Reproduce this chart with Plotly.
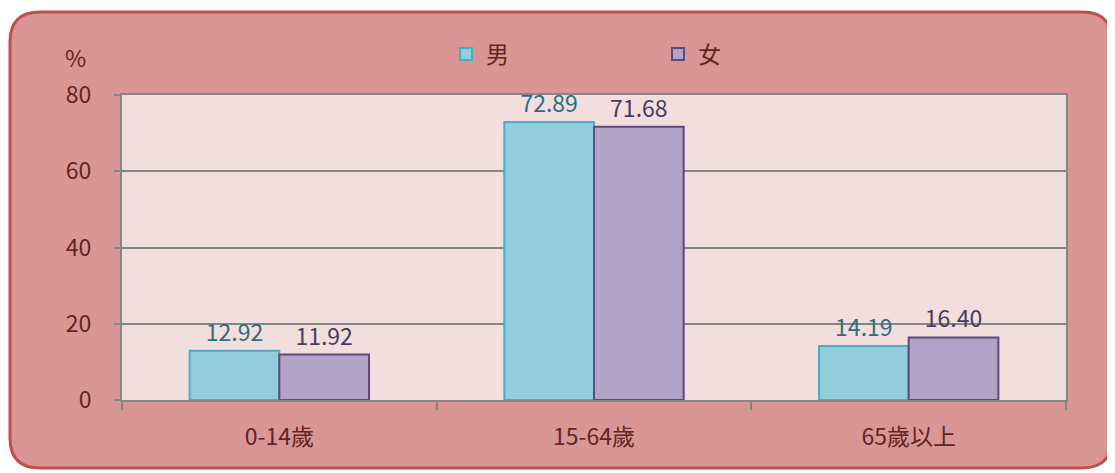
import plotly.graph_objects as go

categories = ["0-14歲", "15-64歲", "65歲以上"]
male = [12.92, 72.89, 14.19]
female = [11.92, 71.68, 16.40]
series_names = ["男", "女"]

# page body has an 8px margin, so the figure is drawn from (8, 8)
OFF = 8
W, H = 1115 - OFF, 473 - OFF
PX0, PX1, PY0, PY1 = 122, 1066, 95, 400   # plot area in screen pixels
L, T = PX0 - OFF, PY0 - OFF
R, B = W - (PX1 - OFF), H - (PY1 - OFF)
pw, ph = PX1 - PX0, PY1 - PY0

def px(x):
    return (x - PX0) / pw

def py(y):
    return (PY1 - y) / ph

def rounded_rect(x0, y0, x1, y1, r):
    pts = [
        f"M {px(x0 + r)},{py(y0)}",
        f"L {px(x1 - r)},{py(y0)}",
        f"Q {px(x1)},{py(y0)} {px(x1)},{py(y0 + r)}",
        f"L {px(x1)},{py(y1 - r)}",
        f"Q {px(x1)},{py(y1)} {px(x1 - r)},{py(y1)}",
        f"L {px(x0 + r)},{py(y1)}",
        f"Q {px(x0)},{py(y1)} {px(x0)},{py(y1 - r)}",
        f"L {px(x0)},{py(y0 + r)}",
        f"Q {px(x0)},{py(y0)} {px(x0 + r)},{py(y0)}",
        "Z",
    ]
    return " ".join(pts)

FONT = "Noto Sans CJK TC, Noto Sans, sans-serif"
TXT = "#632523"
FS = 23

fig = go.Figure()
fig.add_trace(go.Bar(
    x=categories, y=male, name=series_names[0],
    marker=dict(color="#93CDDD", line=dict(color="#4BACC6", width=2)),
    text=[f"{v:.2f}" for v in male], textposition="outside",
    textfont=dict(color="#2E6E7E", size=FS, family=FONT),
    cliponaxis=False,
))
fig.add_trace(go.Bar(
    x=categories, y=female, name=series_names[1],
    marker=dict(color="#B3A2C7", line=dict(color="#5F497A", width=2)),
    text=[f"{v:.2f}" for v in female], textposition="outside",
    textfont=dict(color="#4A3A63", size=FS, family=FONT),
    cliponaxis=False,
))

fig.update_layout(
    width=W, height=H,
    margin=dict(l=L, r=R, t=T, b=B, pad=0),
    paper_bgcolor="white",
    plot_bgcolor="#F2DEDD",
    barmode="group", bargap=0.43, bargroupgap=0,
    font=dict(family=FONT, color=TXT, size=FS),
    legend=dict(
        orientation="h", x=px(446), y=py(54), xanchor="left", yanchor="middle",
        bgcolor="rgba(0,0,0,0)", font=dict(size=FS, color=TXT),
        entrywidth=167, entrywidthmode="pixels", itemwidth=30,
    ),
    shapes=[
        dict(
            type="path", xref="paper", yref="paper", layer="below",
            path=rounded_rect(10, 12, 1112, 468, 30),
            fillcolor="#D99694", line=dict(color="#C0504D", width=3),
        ),
        dict(
            type="rect", xref="paper", yref="paper", layer="below",
            x0=0, x1=1, y0=0, y1=1, fillcolor="#F2DEDD", line=dict(width=0),
        ),
    ],
    annotations=[dict(
        text="%", xref="paper", yref="paper", x=px(75), y=py(57),
        xanchor="center", yanchor="middle",
        showarrow=False, font=dict(size=FS, color=TXT),
    )],
)
fig.update_xaxes(
    type="category", showline=True, linecolor="#868686", linewidth=2,
    mirror=True, ticks="outside", tickson="boundaries", ticklen=8,
    tickcolor="#868686", tickwidth=2, showgrid=False,
    tickfont=dict(size=FS, color=TXT), ticklabelstandoff=15,
)
fig.update_yaxes(
    range=[0, 80], dtick=20, showline=True, linecolor="#868686", linewidth=2,
    mirror=True, ticks="outside", ticklen=6, tickcolor="#868686", tickwidth=2,
    showgrid=True, gridcolor="#868686", gridwidth=1.5, zeroline=False,
    tickfont=dict(size=FS, color=TXT), ticklabelstandoff=18,
)

fig.write_html("out.html")
